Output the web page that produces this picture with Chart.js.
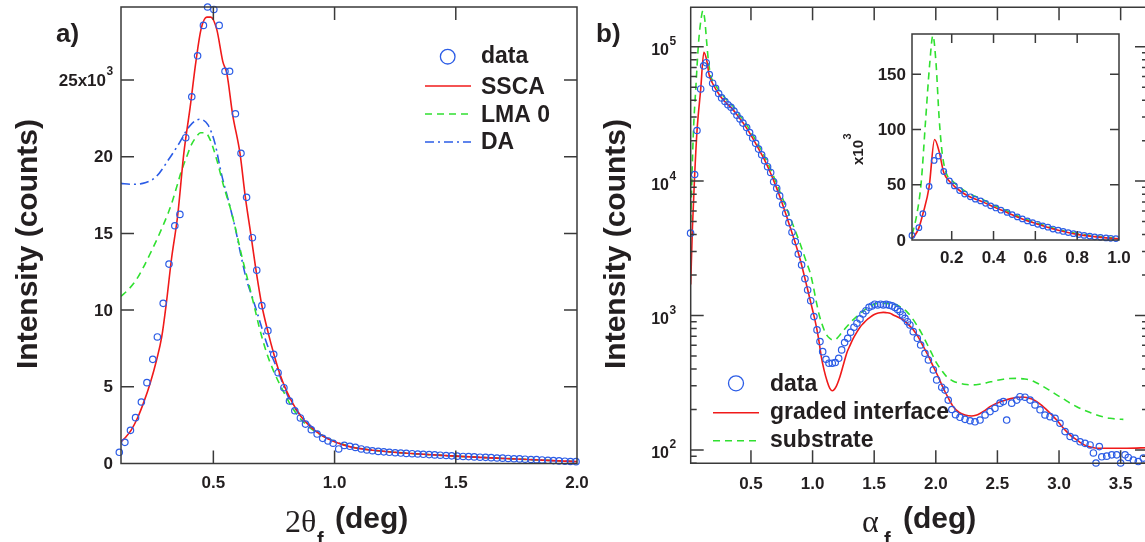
<!DOCTYPE html>
<html lang="en">
<head>
<meta charset="UTF-8" />
<title>Intensity scans</title>
<script src="https://cdn.jsdelivr.net/npm/chart.js"></script>
<style>
  html, body { margin: 0; padding: 0; overflow: hidden; background: #fff; }
  body { position: relative; width: 1145px; height: 542px; }
  canvas { position: absolute; }
  #chartA { left: 0; top: 0; }
  #chartB { left: 580px; top: 0; }
  #chartInset { left: 840px; top: 20px; }
</style>
</head>
<body>
<canvas id="chartA" width="600" height="542"></canvas>
<canvas id="chartB" width="580" height="542"></canvas>
<canvas id="chartInset" width="300" height="260"></canvas>

<script>
// ---------- panel a) : intensity vs 2theta_f, in units of 10^3 counts ----------
const aDataX = [0.112,0.135,0.158,0.179,0.203,0.226,0.250,0.269,0.293,0.317,
  0.341,0.362,0.386,0.411,0.435,0.459,0.476,0.502,0.524,0.548,
  0.567,0.591,0.614,0.637,0.661,0.679,0.700,0.725,0.749,0.767,
  0.791,0.814,0.836,0.859,0.880,0.904,0.928,0.951,0.973,0.994,
  1.017,1.040,1.063,1.086,1.110,1.133,1.156,1.180,1.203,1.226,
  1.250,1.273,1.296,1.320,1.343,1.366,1.390,1.413,1.436,1.460,
  1.483,1.506,1.530,1.553,1.576,1.600,1.623,1.646,1.670,1.693,
  1.716,1.740,1.763,1.786,1.810,1.833,1.856,1.880,1.903,1.926,
  1.950,1.973,1.996];
const aDataY = [0.73,1.38,2.16,2.99,4.01,5.27,6.79,8.25,10.44,13.0,
  15.5,16.24,21.24,23.91,26.58,28.56,29.76,29.6,28.56,25.57,
  25.57,22.8,20.22,17.35,14.72,12.6,10.29,8.66,7.12,5.92,
  4.94,4.07,3.44,2.97,2.57,2.2,1.92,1.64,1.47,1.32,
  0.95,1.18,1.12,1.05,0.95,0.88,0.83,0.79,0.76,0.73,
  0.70,0.68,0.66,0.64,0.62,0.60,0.58,0.56,0.54,0.52,
  0.50,0.48,0.46,0.45,0.43,0.41,0.40,0.38,0.36,0.35,
  0.33,0.31,0.30,0.28,0.26,0.25,0.23,0.21,0.19,0.17,
  0.15,0.13,0.12];

const sscaX = [0.119,0.14,0.161,0.188,0.213,0.24,0.265,0.287,0.306,0.327,0.353,0.378,0.404,0.428,0.449,0.473,0.489,0.514,0.539,0.556,
  0.579,0.61,0.632,0.655,0.674,0.70,0.725,0.75,0.775,0.80,0.83,0.86,0.90,0.95,1.0,1.05,1.1,1.2,1.3,1.4,1.5,1.6,1.7,1.8,1.9,2.0];
const sscaY = [1.42,1.75,2.18,3.0,4.0,5.27,6.7,8.25,10.45,13.3,16.2,20.2,23.2,26.2,28.3,29.1,29.1,28.3,26.2,25.4,
  22.8,20.2,17.35,14.9,12.8,10.3,8.6,7.1,5.8,4.8,3.85,3.1,2.4,1.8,1.42,1.15,0.98,0.8,0.67,0.57,0.48,0.4,0.33,0.26,0.19,0.12];

const lmaX = [0.119,0.15,0.181,0.21,0.243,0.27,0.292,0.313,0.333,0.35,0.367,0.39,0.41,0.43,0.447,0.467,0.487,0.514,0.544,0.569,
  0.59,0.616,0.643,0.665,0.689,0.72,0.752,0.792,0.831,0.878,0.957,1.0,1.05,1.1,1.2,1.3,1.4,1.5,1.6,1.7,1.8,1.9,2.0];
const lmaY = [10.9,11.35,11.95,12.75,13.8,14.7,15.5,16.3,17.2,18.1,19.0,20.0,20.8,21.3,21.56,21.56,21.1,19.8,18.0,16.7,
  15.4,13.6,11.9,10.5,8.9,7.2,5.9,4.6,3.5,2.6,1.75,1.45,1.17,0.99,0.8,0.67,0.57,0.48,0.4,0.33,0.26,0.19,0.12];

const daX = [0.119,0.16,0.209,0.264,0.319,0.36,0.40,0.443,0.478,0.506,0.533,0.561,0.589,0.612,0.637,0.66,0.69,0.72,0.76,0.815,
  0.878,0.957,1.0,1.05,1.1,1.2,1.3,1.4,1.5,1.6,1.7,1.8,1.9,2.0];
const daY = [18.26,18.2,18.26,18.7,19.9,20.9,21.96,22.44,22.07,20.9,18.9,17.2,15.44,13.7,11.96,10.87,9.35,7.84,6.3,4.14,
  2.84,1.75,1.45,1.17,0.99,0.8,0.67,0.57,0.48,0.4,0.33,0.26,0.19,0.12];

const aXTicks = [0.5, 1.0, 1.5, 2.0];
const aYTicks = [0, 5, 10, 15, 20, 25];
const aLegend = ['data', 'SSCA', 'LMA 0', 'DA'];

// ---------- panel b) : intensity vs alpha_f, counts (log) ----------
const bDataX = [0.010,0.043,0.062,0.092,0.116,0.137,0.162,0.189,0.213,0.238,
  0.262,0.289,0.313,0.338,0.362,0.386,0.411,0.435,0.465,0.489,
  0.514,0.538,0.562,0.587,0.611,0.635,0.660,0.684,0.709,0.733,
  0.757,0.782,0.808,0.833,0.860,0.884,0.911,0.938,0.960,0.985,
  1.011,1.036,1.060,1.082,1.109,1.133,1.160,1.184,1.212,1.236,
  1.260,1.285,1.309,1.336,1.360,1.385,1.409,1.433,1.458,1.482,
  1.504,1.528,1.552,1.574,1.598,1.622,1.645,1.668,1.690,1.710,
  1.730,1.750,1.770,1.790,1.817,1.850,1.877,1.912,1.940,1.980,
  2.007,2.048,2.075,2.101,2.130,2.160,2.196,2.237,2.278,2.318,
  2.359,2.400,2.440,2.480,2.521,2.548,2.575,2.616,2.657,2.683,
  2.724,2.765,2.805,2.846,2.886,2.927,2.968,3.008,3.049,3.090,
  3.130,3.171,3.211,3.252,3.279,3.300,3.327,3.347,3.387,3.428,
  3.468,3.500,3.536,3.562,3.603,3.643,3.684];
const bDataY = [4100,11200,23800,48500,72000,76000,62000,53500,49000,44800,
  41600,39100,37000,35400,33200,30900,29000,27000,25000,23000,
  20900,19100,17300,15700,14200,12800,11600,9900,8850,7760,
  6690,5770,4910,4170,3550,2870,2380,1880,1550,1290,
  982,782,640,539,473,442,442,447,481,555,
  629,678,751,819,877,944,1028,1087,1153,1179,
  1214,1199,1214,1200,1210,1195,1180,1150,1110,1070,
  1010,955,900,851,759,677,604,524,467,394,
  332,293,279,235,200,183,175,169,165,162,
  167,182,193,204,223,229,167,223,235,249,
  247,235,216,199,182,177,172,158,137,126,
  122,115,112,109,95,80,106,89,90,92,
  92,80,92,88,84,82,87];

const gradX = [0.011,0.025,0.043,0.062,0.092,0.118,0.140,0.162,0.190,0.25,
  0.30,0.35,0.40,0.45,0.50,0.55,0.60,0.65,0.70,0.75,
  0.80,0.85,0.90,0.95,1.00,1.02,1.046,1.07,1.093,1.12,
  1.14,1.16,1.19,1.222,1.25,1.277,1.304,1.331,1.358,1.385,
  1.412,1.439,1.466,1.493,1.52,1.547,1.574,1.60,1.628,1.655,
  1.695,1.736,1.776,1.817,1.858,1.899,1.94,1.98,2.02,2.061,
  2.10,2.142,2.19,2.237,2.291,2.325,2.359,2.40,2.44,2.49,
  2.548,2.60,2.657,2.70,2.738,2.78,2.819,2.86,2.90,2.94,
  2.981,3.02,3.062,3.10,3.144,3.185,3.225,3.28,3.333,3.441,
  3.55,3.722];
const gradY = [1700,4500,11000,23500,48000,91000,80000,61000,53000,43000,
  38000,34300,30000,26000,22000,18200,15000,12000,9300,7000,
  5100,3700,2600,1700,1100,920,697,500,394,320,
  287,276,295,351,430,525,600,678,750,819,
  875,927,970,1010,1035,1050,1055,1050,1040,1010,
  970,927,860,783,690,587,500,417,350,288,
  245,210,190,182,179,181,187,197,210,222,
  232,240,246,248,246,239,229,215,199,183,
  167,151,137,127,119,112,107,104,103,103,
  103,104];

const subX = [0.011,0.032,0.054,0.075,0.095,0.110,0.125,0.140,0.155,0.175,
  0.20,0.25,0.30,0.35,0.40,0.45,0.50,0.55,0.60,0.65,
  0.70,0.75,0.80,0.85,0.90,0.95,0.979,1.00,1.033,1.055,
  1.074,1.094,1.114,1.14,1.168,1.195,1.222,1.256,1.29,1.324,
  1.358,1.40,1.439,1.48,1.52,1.56,1.60,1.64,1.683,1.724,
  1.764,1.805,1.845,1.886,1.926,1.966,2.007,2.048,2.088,2.142,
  2.196,2.25,2.304,2.36,2.413,2.48,2.548,2.60,2.657,2.71,
  2.765,2.82,2.873,2.927,2.981,3.035,3.09,3.144,3.198,3.252,
  3.306,3.36,3.414,3.468,3.522];
const subY = [5000,22000,52000,108000,160000,185000,160000,110000,78000,60000,
  54000,46000,40500,36500,31500,27600,23200,19300,15900,12800,
  10000,7700,5900,4500,3400,2500,2100,1750,1230,1000,
  877,780,718,675,658,672,718,785,851,920,
  982,1060,1130,1190,1230,1235,1230,1215,1200,1140,
  1070,965,851,735,622,525,442,390,351,325,
  313,307,305,309,316,327,336,340,341,338,
  332,315,296,276,257,240,223,210,199,190,
  182,176,172,170,169];

const bXTicks = [0.5, 1.0, 1.5, 2.0, 2.5, 3.0, 3.5];
const bDecades = [2, 3, 4, 5];
const bLegend = ['data', 'graded interface', 'substrate'];

// inset uses the same data, first degree only
const inXTicks = [0.2, 0.4, 0.6, 0.8, 1.0];
const inYTicks = [0, 50, 100, 150]; // x10^3

// ---------- styling ----------
const INK = '#231f20', AXIS = '#3a3a3a';
const BLUE = '#2b5ce6', RED = '#f01a1a', GREEN = '#30e030';
const SANS = '"Liberation Sans", Arial, sans-serif';
const SERIF = '"Liberation Serif", "Times New Roman", serif';
const B = px => `bold ${px}px ${SANS}`;
const DASH = [7, 5], DASHDOT = [9, 4, 2, 4];

function pts(xs, ys, xmax = Infinity) {
  return xs.map((x, i) => ({ x, y: ys[i] })).filter(p => p.x <= xmax);
}
function circles(data, r) {
  return { data, showLine: false, pointStyle: 'circle', pointRadius: r, pointBorderWidth: 1.2,
    pointBorderColor: BLUE, pointBackgroundColor: 'rgba(0,0,0,0)', clip: false };
}
function curve(data, color, dash) {
  return { data, showLine: true, borderColor: color, borderWidth: 1.6, borderDash: dash || [],
    pointRadius: 0, tension: 0.4, cubicInterpolationMode: 'monotone' };
}
function opts(padding, xs, ys) {
  return {
    responsive: false, animation: false, events: [],
    layout: { padding },
    scales: {
      x: Object.assign({ type: 'linear', display: false }, xs),
      y: Object.assign({ type: 'linear', display: false }, ys)
    },
    plugins: { legend: { display: false }, tooltip: { enabled: false } }
  };
}

function text(ctx, s, x, y, font, align = 'left', base = 'alphabetic') {
  ctx.font = font; ctx.textAlign = align; ctx.textBaseline = base;
  ctx.fillText(s, x, y);
}
// frame with inward ticks on all four sides
function box(chart, xs, ys, len) {
  const { ctx, chartArea: a, scales: { x, y } } = chart;
  ctx.beginPath();
  ctx.rect(a.left, a.top, a.right - a.left, a.bottom - a.top);
  xs.forEach(v => {
    const p = x.getPixelForValue(v);
    ctx.moveTo(p, a.bottom); ctx.lineTo(p, a.bottom - len);
    ctx.moveTo(p, a.top); ctx.lineTo(p, a.top + len);
  });
  ys.forEach(([v, l]) => {
    const p = y.getPixelForValue(v);
    ctx.moveTo(a.left, p); ctx.lineTo(a.left + l, p);
    ctx.moveTo(a.right, p); ctx.lineTo(a.right - l, p);
  });
  ctx.stroke();
}
function legLine(ctx, x1, x2, y, color, dash) {
  ctx.save();
  ctx.strokeStyle = color; ctx.lineWidth = 1.6; ctx.setLineDash(dash);
  ctx.beginPath(); ctx.moveTo(x1, y); ctx.lineTo(x2, y); ctx.stroke();
  ctx.restore();
}
function legCircle(ctx, x, y, r) {
  ctx.save();
  ctx.strokeStyle = BLUE; ctx.lineWidth = 1.3;
  ctx.beginPath(); ctx.arc(x, y, r, 0, Math.PI * 2); ctx.stroke();
  ctx.restore();
}
function yTitle(ctx, x, y) {
  ctx.save();
  ctx.translate(x, y); ctx.rotate(-Math.PI / 2);
  text(ctx, 'Intensity (counts)', 0, 0, B(30), 'center');
  ctx.restore();
}

function decorA(chart) {
  const { ctx, scales: { x, y } } = chart;
  ctx.save();
  ctx.strokeStyle = AXIS; ctx.lineWidth = 1.5;
  box(chart, aXTicks, aYTicks.map(v => [v, 13]), 13);
  ctx.fillStyle = INK;
  aXTicks.forEach(v => text(ctx, v.toFixed(1), x.getPixelForValue(v), 483, B(17), 'center', 'middle'));
  aYTicks.forEach(v => {
    const p = y.getPixelForValue(v) + 1;
    if (v === 25) {
      text(ctx, '25x10', 106, p, B(17), 'right', 'middle');
      text(ctx, '3', 106.5, p - 6, B(12));
    } else {
      text(ctx, String(v), 113, p, B(17), 'right', 'middle');
    }
  });
  text(ctx, 'a)', 56, 42, B(26));
  yTitle(ctx, 36.5, 244);
  text(ctx, '2\u03b8', 285, 532, `32px ${SERIF}`);
  text(ctx, 'f', 317, 546, B(20));
  text(ctx, '(deg)', 335, 528, B(30));

  // legend
  legCircle(ctx, 447.7, 56.7, 7.3);
  legLine(ctx, 425, 471, 86, RED, []);
  legLine(ctx, 425, 471, 114, GREEN, DASH);
  legLine(ctx, 425, 471, 142, BLUE, DASHDOT);
  [63.3, 94, 121.7, 149.3].forEach((yy, i) => text(ctx, aLegend[i], 481, yy, B(23)));
  ctx.restore();
}

function decorB(chart) {
  const { ctx, scales: { x, y } } = chart;
  const ox = 580;
  ctx.save();
  ctx.strokeStyle = AXIS; ctx.lineWidth = 1.5;
  const yt = [];
  for (let d = 1; d <= 5; d++) {
    for (let m = 1; m <= 9; m++) {
      const v = m * Math.pow(10, d);
      if (v >= y.min && v <= y.max) yt.push([v, m === 1 ? 13 : 6]);
    }
  }
  box(chart, bXTicks, yt, 13);
  ctx.fillStyle = INK;
  bXTicks.forEach(v => text(ctx, v.toFixed(1), x.getPixelForValue(v), 484, B(17), 'center', 'middle'));
  bDecades.forEach(d => {
    const p = y.getPixelForValue(Math.pow(10, d));
    text(ctx, '10', 669 - ox, p + 4, B(16), 'right', 'middle');
    text(ctx, String(d), 669.5 - ox, p - 1.5, B(12));
  });
  text(ctx, 'b)', 596 - ox, 42, B(26));
  yTitle(ctx, 625.4 - ox, 244);
  text(ctx, '\u03b1', 862 - ox, 532, `32px ${SERIF}`);
  text(ctx, 'f', 884 - ox, 546, B(20));
  text(ctx, '(deg)', 903 - ox, 528, B(30));

  legCircle(ctx, 736 - ox, 383.3, 7.5);
  legLine(ctx, 713 - ox, 759 - ox, 412.7, RED, []);
  legLine(ctx, 713 - ox, 759 - ox, 440.7, GREEN, DASH);
  [390.7, 419, 447].forEach((yy, i) => text(ctx, bLegend[i], 770 - ox, yy, B(23)));
  ctx.restore();
}

function decorInset(chart) {
  const { ctx, scales: { x, y } } = chart;
  ctx.save();
  ctx.strokeStyle = AXIS; ctx.lineWidth = 1.5;
  box(chart, inXTicks, inYTicks.map(v => [v * 1000, 9]), 9);
  ctx.fillStyle = INK;
  inXTicks.forEach(v => text(ctx, v.toFixed(1), x.getPixelForValue(v), 238.5, B(17), 'center', 'middle'));
  inYTicks.forEach(v => text(ctx, String(v), 66, y.getPixelForValue(v * 1000) + 1, B(17), 'right', 'middle'));
  ctx.translate(23, 145); ctx.rotate(-Math.PI / 2);
  text(ctx, 'x10', 0, 0, B(15));
  text(ctx, '3', 25.5, -12, B(11));
  ctx.restore();
}

new Chart(document.getElementById('chartA'), {
  type: 'scatter',
  data: { datasets: [
    circles(pts(aDataX, aDataY), 3.2),
    curve(pts(sscaX, sscaY), RED),
    curve(pts(lmaX, lmaY), GREEN, DASH),
    curve(pts(daX, daY), BLUE, DASHDOT)
  ]},
  options: opts({ left: 121, top: 7, right: 23, bottom: 78.5 }, { min: 0.119, max: 2.0 }, { min: 0, max: 29.76 }),
  plugins: [{ id: 'decorA', afterDraw: decorA }]
});

new Chart(document.getElementById('chartB'), {
  type: 'scatter',
  data: { datasets: [
    circles(pts(bDataX, bDataY), 3.2),
    curve(pts(gradX, gradY), RED),
    curve(pts(subX, subY), GREEN, DASH)
  ]},
  options: opts({ left: 110.7, top: 7.3, right: 12, bottom: 78.7 }, { min: 0.011, max: 3.722 },
    { type: 'logarithmic', min: 79.6, max: 196300 }),
  plugins: [{ id: 'decorB', afterDraw: decorB }]
});

new Chart(document.getElementById('chartInset'), {
  type: 'scatter',
  data: { datasets: [
    circles(pts(bDataX, bDataY, 1.0), 2.8),
    curve(pts(gradX, gradY, 1.0), RED),
    curve(pts(subX, subY, 1.0), GREEN, DASH)
  ]},
  options: opts({ left: 72, top: 14, right: 21, bottom: 40 }, { min: 0.0101, max: 1.0 }, { min: 0, max: 186500 }),
  plugins: [{
    id: 'decorInset',
    beforeDatasetsDraw(chart) {
      const a = chart.chartArea;
      chart.ctx.save();
      chart.ctx.fillStyle = '#fff';
      chart.ctx.fillRect(a.left, a.top, a.right - a.left, a.bottom - a.top);
      chart.ctx.restore();
    },
    afterDraw: decorInset
  }]
});
</script>
</body>
</html>
